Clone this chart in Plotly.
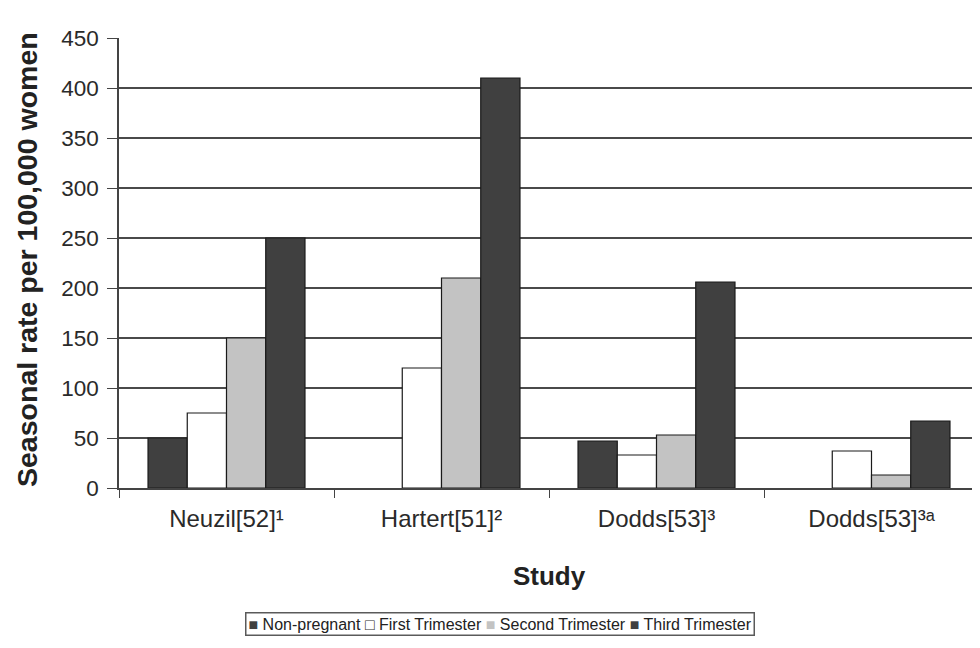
import plotly.graph_objects as go

studies = ["Neuzil[52]¹", "Hartert[51]²", "Dodds[53]³", "Dodds[53]³ᵃ"]
non_pregnant = [50, None, 47, None]
first_trimester = [75, 120, 33, 37]
second_trimester = [150, 210, 53, 13]
third_trimester = [250, 410, 206, 67]

series = [
    ("Non-pregnant", non_pregnant, "#404040", "■"),
    ("First Trimester", first_trimester, "#ffffff", "□"),
    ("Second Trimester", second_trimester, "#c3c3c3", "■"),
    ("Third Trimester", third_trimester, "#404040", "■"),
]

fig = go.Figure()
for name, vals, color, sym in series:
    fig.add_trace(go.Bar(
        name=name, x=studies, y=vals,
        marker=dict(color=color, line=dict(color="#1a1a1a", width=1.2)),
        showlegend=False,
    ))

# compact legend, as in the reference
legend_parts = []
for name, vals, color, sym in series:
    c = "#303030" if sym == "□" else color
    legend_parts.append(f'<span style="color:{c}">{sym}</span> {name}')
legend_text = " ".join(legend_parts)

fig.add_annotation(
    xref="paper", yref="paper", x=(492 - 111) / 860, y=-0.275,
    xanchor="center", yanchor="top", showarrow=False,
    text=legend_text, font=dict(size=16, color="#222"),
    bordercolor="#5a5a5a", borderwidth=1.5, borderpad=2, bgcolor="white",
)

# y-axis title placed to match the reference
fig.add_annotation(
    xref="paper", yref="paper", x=(19 - 111) / 860, y=(480 - 252) / 450,
    xanchor="center", yanchor="middle", showarrow=False, textangle=-90,
    text="<b>Seasonal rate per 100,000 women</b>", font=dict(size=28.5, color="#222"),
)

fig.update_layout(
    width=972, height=640,
    paper_bgcolor="white", plot_bgcolor="white",
    margin=dict(l=111, r=1, t=30, b=160),
    barmode="group", bargap=0.27, bargroupgap=0,
    font=dict(family="Liberation Sans, Arial, sans-serif", color="#2a2a2a"),
    showlegend=False,
    xaxis=dict(
        automargin=False,
        showline=True, linecolor="#444", linewidth=1.5,
        ticks="outside", tickson="boundaries", ticklen=8, tickcolor="#444",
        tickfont=dict(size=24, color="#2a2a2a"), ticklabelstandoff=8,
        title=dict(text="<b>Study</b>", font=dict(size=26, color="#222"), standoff=36),
    ),
    yaxis=dict(
        automargin=False,
        range=[0, 450], dtick=50,
        showline=True, linecolor="#444", linewidth=1.5,
        ticks="outside", ticklen=10, tickcolor="#444",
        showgrid=True, gridcolor="#4a4a4a", gridwidth=2,
        zeroline=False,
        tickfont=dict(size=22.5, color="#2a2a2a"), ticklabelstandoff=4,
    ),
)

fig.write_html("out.html")
